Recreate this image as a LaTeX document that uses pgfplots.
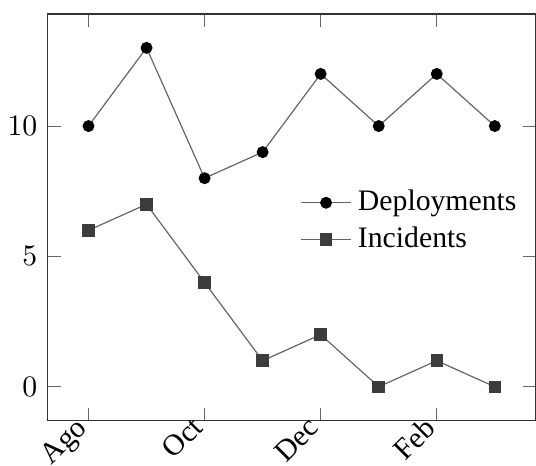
\documentclass[border=0pt]{standalone}
\usepackage{fontspec}
\setmainfont{Liberation Serif}
\usepackage{pgfplots}
\pgfplotsset{compat=1.18}
\definecolor{linegray}{RGB}{100,100,100}
\definecolor{sqgray}{RGB}{60,60,60}
\begin{document}
\begin{tikzpicture}
\begin{axis}[
  scale only axis,
  width=164pt, height=136.8pt,
  xmin=-0.7, xmax=7.7,
  ymin=-1.3, ymax=14.3,
  xtick={0,2,4,6},
  xticklabels={Ago,Oct,Dec,Feb},
  xticklabel style={rotate=45, anchor=north east, inner sep=0pt, xshift=-2pt, yshift=4.8pt},
  ytick={0,5,10},
  axis line style={black!80},
  tick style={black!60},
  legend style={at={(0.51,0.59)}, anchor=north west, draw=none, fill=none, row sep=0pt, inner sep=1pt},
  legend cell align=left,
]
\addplot[linegray, thin, mark=*, mark options={black, fill=black, scale=0.9}] coordinates {
(0,10) (1,13) (2,8) (3,9) (4,12) (5,10) (6,12) (7,10)};
\addlegendentry{Deployments}
\addplot[linegray, thin, mark=square*, mark options={sqgray, fill=sqgray, scale=0.95}] coordinates {
(0,6) (1,7) (2,4) (3,1) (4,2) (5,0) (6,1) (7,0)};
\addlegendentry{Incidents}
\end{axis}
\path (current axis.south west) ++(-16.1pt,-15.1pt) coordinate (bbA);
\path (current axis.north east) ++(0.2pt,4.7pt) coordinate (bbB);
\pgfresetboundingbox
\path[use as bounding box] (bbA) rectangle (bbB);
\end{tikzpicture}
\end{document}
